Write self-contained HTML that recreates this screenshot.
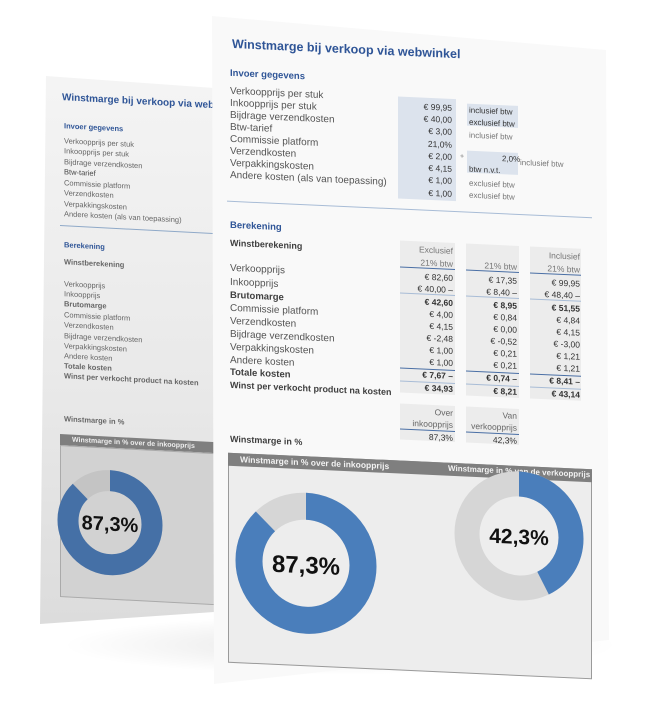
<!DOCTYPE html>
<html><head><meta charset="utf-8"><style>
html,body{margin:0;padding:0;background:#fff;}
body{width:653px;height:698px;position:relative;overflow:hidden;font-family:"Liberation Sans",sans-serif;}
.a{position:absolute;white-space:nowrap;line-height:1;}
.l{color:#555;font-size:10px;}
.b{font-weight:bold;color:#404040;}
.h{color:#2f5597;font-weight:bold;}
.v{font-size:8.5px;color:#333;text-align:right;width:52px;}
.bl{font-size:7.5px;color:#666;}
#back{position:absolute;left:0;top:0;width:653px;height:698px;}
#front{position:absolute;left:0;top:0;width:653px;height:698px;}
</style></head><body>

<div class="a" style="left:60px;top:615px;width:560px;height:60px;border-radius:50%;background:radial-gradient(ellipse at center,rgba(0,0,0,0.10),rgba(0,0,0,0) 70%);"></div>

<!-- BACK PAGE -->
<div id="back">
  <div class="a" style="left:0;top:0;width:653px;height:698px;clip-path:polygon(46px 76px,214px 88px,214px 612px,40px 624px);background:linear-gradient(#f7f7f7,#e9e9e9 55%,#d8d8d8);"></div>
  <div class="a" style="left:40px;top:0;width:174px;height:698px;transform:skewY(3deg);transform-origin:0 0;overflow:visible;">
    <div class="a h" style="left:22px;top:92px;font-size:10px;">Winstmarge bij verkoop via webwinkel</div>
    <div class="a h" style="left:24px;top:121px;font-size:7.5px;">Invoer gegevens</div>
    <div class="a bl" style="left:24px;top:136px;">Verkoopprijs per stuk</div>
    <div class="a bl" style="left:24px;top:146px;">Inkoopprijs per stuk</div>
    <div class="a bl" style="left:24px;top:157px;">Bijdrage verzendkosten</div>
    <div class="a bl" style="left:24px;top:167px;color:#444">Btw-tarief</div>
    <div class="a bl" style="left:24px;top:178px;">Commissie platform</div>
    <div class="a bl" style="left:24px;top:188px;">Verzendkosten</div>
    <div class="a bl" style="left:24px;top:199px;">Verpakkingskosten</div>
    <div class="a bl" style="left:24px;top:209px;">Andere kosten (als van toepassing)</div>
    <div class="a" style="left:20px;top:224px;width:160px;height:1px;background:#8fa9c8;"></div>
    <div class="a h" style="left:24px;top:240px;font-size:7.5px;">Berekening</div>
    <div class="a bl b" style="left:24px;top:257px;font-size:7.5px;">Winstberekening</div>
    <div class="a bl" style="left:24px;top:279px;">Verkoopprijs</div>
    <div class="a bl" style="left:24px;top:289px;">Inkoopprijs</div>
    <div class="a bl b" style="left:24px;top:299px;">Brutomarge</div>
    <div class="a bl" style="left:24px;top:310px;">Commissie platform</div>
    <div class="a bl" style="left:24px;top:320px;">Verzendkosten</div>
    <div class="a bl" style="left:24px;top:331px;">Bijdrage verzendkosten</div>
    <div class="a bl" style="left:24px;top:341px;">Verpakkingskosten</div>
    <div class="a bl" style="left:24px;top:351px;">Andere kosten</div>
    <div class="a bl b" style="left:24px;top:361px;">Totale kosten</div>
    <div class="a bl b" style="left:24px;top:371px;">Winst per verkocht product na kosten</div>
    <div class="a bl b" style="left:24px;top:414px;">Winstmarge in %</div>
    <div class="a" style="left:20px;top:433px;width:160px;height:11px;background:#7f7f7f;"></div>
    <div class="a" style="left:32px;top:435px;font-size:7px;color:#eee;font-weight:bold;">Winstmarge in % over de inkoopprijs</div>
    <div class="a" style="left:20px;top:444px;width:158px;height:150px;background:#d2d2d2;border:1px solid #aaa;"></div>
    <svg class="a" style="left:0;top:0;" width="174" height="698">
      <circle cx="70" cy="519" r="42" fill="none" stroke="#c4c4c4" stroke-width="21"/>
      <circle cx="70" cy="519" r="42" fill="none" stroke="#4570a6" stroke-width="21" stroke-dasharray="230.4 263.9" transform="rotate(-90 70 519)"/>
      <text x="70" y="527" text-anchor="middle" font-family="Liberation Sans" font-weight="bold" font-size="20" fill="#111">87,3%</text>
    </svg>
  </div>
</div>

<!-- FRONT PAGE -->
<div id="front">
  <div class="a" style="left:0;top:0;width:653px;height:698px;clip-path:polygon(212px 16px,606px 50px,609px 640px,214px 684px);background:#f9f9f9;"></div>
  <div class="a" style="left:212px;top:0;width:400px;height:698px;transform:skewY(2.6deg);transform-origin:0 0;">
    <div class="a h" style="left:20px;top:37px;font-size:12.5px;">Winstmarge bij verkoop via webwinkel</div>
    <div class="a h" style="left:18px;top:68px;font-size:9.5px;">Invoer gegevens</div>
    <div class="a l" style="left:18px;top:86px;">Verkoopprijs per stuk</div>
    <div class="a l" style="left:18px;top:98px;">Inkoopprijs per stuk</div>
    <div class="a l" style="left:18px;top:110px;">Bijdrage verzendkosten</div>
    <div class="a l" style="left:18px;top:122px;">Btw-tarief</div>
    <div class="a l" style="left:18px;top:134px;">Commissie platform</div>
    <div class="a l" style="left:18px;top:146px;">Verzendkosten</div>
    <div class="a l" style="left:18px;top:158px;">Verpakkingskosten</div>
    <div class="a l" style="left:18px;top:170px;">Andere kosten (als van toepassing)</div>
    <div class="a" style="left:186px;top:88px;width:58px;height:102px;background:#dce3ed;"></div>
    <div class="a v" style="left:188px;top:93px;">€ 99,95</div>
    <div class="a v" style="left:188px;top:105px;">€ 40,00</div>
    <div class="a v" style="left:188px;top:117px;">€ 3,00</div>
    <div class="a v" style="left:188px;top:130px;">21,0%</div>
    <div class="a v" style="left:188px;top:142px;">€ 2,00</div>
    <div class="a v" style="left:188px;top:154px;">€ 4,15</div>
    <div class="a v" style="left:188px;top:166px;">€ 1,00</div>
    <div class="a v" style="left:188px;top:179px;">€ 1,00</div>
    <div class="a" style="left:255px;top:92px;width:51px;height:22px;background:#dce3ed;"></div>
    <div class="a" style="left:255px;top:139px;width:51px;height:22px;background:#dce3ed;"></div>
    <div class="a" style="left:257px;top:95px;font-size:8px;color:#333;">inclusief btw</div>
    <div class="a" style="left:257px;top:107px;font-size:8px;color:#333;">exclusief btw</div>
    <div class="a" style="left:257px;top:120px;font-size:8px;color:#777;">inclusief btw</div>
    <div class="a" style="left:248px;top:142px;font-size:7px;color:#777;">+</div>
    <div class="a" style="left:290px;top:142px;font-size:8px;color:#333;">2,0%</div>
    <div class="a" style="left:308px;top:145px;font-size:8px;color:#777;">inclusief btw</div>
    <div class="a" style="left:257px;top:154px;font-size:8px;color:#333;">btw n.v.t.</div>
    <div class="a" style="left:257px;top:168px;font-size:8px;color:#777;">exclusief btw</div>
    <div class="a" style="left:257px;top:180px;font-size:8px;color:#777;">exclusief btw</div>
    <div class="a" style="left:15px;top:200px;width:365px;height:1px;background:#a8bcd6;"></div>
    <div class="a h" style="left:18px;top:220px;font-size:9.5px;">Berekening</div>
    <div class="a b" style="left:18px;top:238px;font-size:9px;">Winstberekening</div>
    <div class="a l" style="left:18px;top:263px;">Verkoopprijs</div>
    <div class="a l" style="left:18px;top:277px;">Inkoopprijs</div>
    <div class="a l b" style="left:18px;top:290px;font-size:9.5px;">Brutomarge</div>
    <div class="a l" style="left:18px;top:303px;">Commissie platform</div>
    <div class="a l" style="left:18px;top:316px;">Verzendkosten</div>
    <div class="a l" style="left:18px;top:329px;">Bijdrage verzendkosten</div>
    <div class="a l" style="left:18px;top:342px;">Verpakkingskosten</div>
    <div class="a l" style="left:18px;top:355px;">Andere kosten</div>
    <div class="a l b" style="left:18px;top:367px;font-size:9.5px;">Totale kosten</div>
    <div class="a l b" style="left:18px;top:380px;font-size:9px;">Winst per verkocht product na kosten</div>

    <div class="a" style="left:188px;top:232px;width:55px;height:152px;background:#ececec;"></div>
    <div class="a" style="left:254px;top:232px;width:53px;height:152px;background:#ececec;"></div>
    <div class="a" style="left:318px;top:232px;width:51px;height:152px;background:#ececec;"></div>
    <div class="a v" style="left:189px;top:236px;color:#777;">Exclusief</div>
    <div class="a v" style="left:189px;top:249px;color:#777;">21% btw</div>
    <div class="a v" style="left:253px;top:249px;color:#777;">21% btw</div>
    <div class="a v" style="left:316px;top:236px;color:#777;">Inclusief</div>
    <div class="a v" style="left:316px;top:249px;color:#777;">21% btw</div>
    <div class="a" style="left:188px;top:258px;width:55px;height:1px;background:#4a6fa5;"></div>
    <div class="a" style="left:254px;top:258px;width:53px;height:1px;background:#4a6fa5;"></div>
    <div class="a" style="left:318px;top:258px;width:51px;height:1px;background:#4a6fa5;"></div>
    <div class="a" style="left:188px;top:284px;width:55px;height:1px;background:#a8bcd6;"></div>
    <div class="a" style="left:254px;top:284px;width:53px;height:1px;background:#a8bcd6;"></div>
    <div class="a" style="left:318px;top:284px;width:51px;height:1px;background:#a8bcd6;"></div>
    <div class="a" style="left:188px;top:359px;width:55px;height:1px;background:#4a6fa5;"></div>
    <div class="a" style="left:254px;top:359px;width:53px;height:1px;background:#4a6fa5;"></div>
    <div class="a" style="left:318px;top:359px;width:51px;height:1px;background:#4a6fa5;"></div>
    <div class="a" style="left:188px;top:372px;width:55px;height:1px;background:#a8bcd6;"></div>
    <div class="a" style="left:254px;top:372px;width:53px;height:1px;background:#a8bcd6;"></div>
    <div class="a" style="left:318px;top:372px;width:51px;height:1px;background:#a8bcd6;"></div>

    <div class="a v" style="left:189px;top:263px;">€ 82,60</div>
    <div class="a v" style="left:189px;top:275px;">€ 40,00 –</div>
    <div class="a v b" style="left:189px;top:288px;">€ 42,60</div>
    <div class="a v" style="left:189px;top:300px;">€ 4,00</div>
    <div class="a v" style="left:189px;top:312px;">€ 4,15</div>
    <div class="a v" style="left:189px;top:324px;">€ -2,48</div>
    <div class="a v" style="left:189px;top:336px;">€ 1,00</div>
    <div class="a v" style="left:189px;top:348px;">€ 1,00</div>
    <div class="a v b" style="left:189px;top:361px;">€ 7,67 –</div>
    <div class="a v b" style="left:189px;top:374px;">€ 34,93</div>

    <div class="a v" style="left:253px;top:263px;">€ 17,35</div>
    <div class="a v" style="left:253px;top:275px;">€ 8,40 –</div>
    <div class="a v b" style="left:253px;top:288px;">€ 8,95</div>
    <div class="a v" style="left:253px;top:300px;">€ 0,84</div>
    <div class="a v" style="left:253px;top:312px;">€ 0,00</div>
    <div class="a v" style="left:253px;top:324px;">€ -0,52</div>
    <div class="a v" style="left:253px;top:336px;">€ 0,21</div>
    <div class="a v" style="left:253px;top:348px;">€ 0,21</div>
    <div class="a v b" style="left:253px;top:361px;">€ 0,74 –</div>
    <div class="a v b" style="left:253px;top:374px;">€ 8,21</div>

    <div class="a v" style="left:316px;top:263px;">€ 99,95</div>
    <div class="a v" style="left:316px;top:275px;">€ 48,40 –</div>
    <div class="a v b" style="left:316px;top:288px;">€ 51,55</div>
    <div class="a v" style="left:316px;top:300px;">€ 4,84</div>
    <div class="a v" style="left:316px;top:312px;">€ 4,15</div>
    <div class="a v" style="left:316px;top:324px;">€ -3,00</div>
    <div class="a v" style="left:316px;top:336px;">€ 1,21</div>
    <div class="a v" style="left:316px;top:348px;">€ 1,21</div>
    <div class="a v b" style="left:316px;top:361px;">€ 8,41 –</div>
    <div class="a v b" style="left:316px;top:374px;">€ 43,14</div>

    <div class="a" style="left:188px;top:395px;width:55px;height:36px;background:#ececec;"></div>
    <div class="a" style="left:254px;top:395px;width:53px;height:36px;background:#ececec;"></div>
    <div class="a v" style="left:189px;top:398px;color:#666;">Over</div>
    <div class="a v" style="left:189px;top:410px;color:#666;">inkoopprijs</div>
    <div class="a v" style="left:253px;top:398px;color:#666;">Van</div>
    <div class="a v" style="left:253px;top:410px;color:#666;">verkoopprijs</div>
    <div class="a" style="left:188px;top:420px;width:55px;height:1px;background:#4a6fa5;"></div>
    <div class="a" style="left:254px;top:420px;width:53px;height:1px;background:#4a6fa5;"></div>
    <div class="a v" style="left:189px;top:423px;">87,3%</div>
    <div class="a v" style="left:253px;top:423px;">42,3%</div>
    <div class="a b" style="left:18px;top:434px;font-size:9px;">Winstmarge in %</div>

    <div class="a" style="left:16px;top:452px;width:364px;height:210px;background:#ededed;border:1px solid #9a9a9a;box-sizing:border-box;"></div>
    <div class="a" style="left:16px;top:452px;width:364px;height:13px;background:#7f7f7f;"></div>
    <div class="a" style="left:28px;top:454px;font-size:8.5px;color:#f2f2f2;font-weight:bold;">Winstmarge in % over de inkoopprijs</div>
    <div class="a" style="left:236px;top:454px;font-size:8px;color:#f2f2f2;font-weight:bold;">Winstmarge in % van de verkoopprijs</div>
    <svg class="a" style="left:0;top:0;" width="400" height="698">
      <circle cx="94" cy="559" r="57" fill="none" stroke="#d6d6d6" stroke-width="27"/>
      <circle cx="94" cy="559" r="57" fill="none" stroke="#4a7ebb" stroke-width="27" stroke-dasharray="312.7 358.1" transform="rotate(-90 94 559)"/>
      <text x="94" y="569" text-anchor="middle" font-family="Liberation Sans" font-weight="bold" font-size="24" fill="#111">87,3%</text>
      <circle cx="307" cy="522" r="52" fill="none" stroke="#d6d6d6" stroke-width="25"/>
      <circle cx="307" cy="522" r="52" fill="none" stroke="#4a7ebb" stroke-width="25" stroke-dasharray="138.2 326.7" transform="rotate(-90 307 522)"/>
      <text x="307" y="530" text-anchor="middle" font-family="Liberation Sans" font-weight="bold" font-size="21" fill="#111">42,3%</text>
    </svg>
  </div>
</div>
</body></html>
